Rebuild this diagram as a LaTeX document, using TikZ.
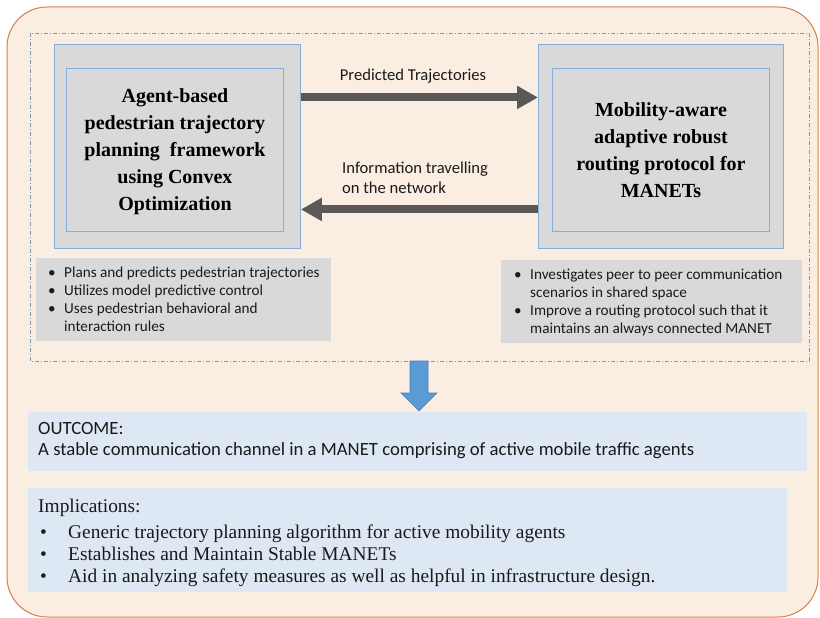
\documentclass[tikz,border=0pt]{standalone}
\usepackage{fontspec}
\setmainfont{Liberation Serif}
\newfontfamily\calfont{Carlito}
\usetikzlibrary{arrows.meta}
\definecolor{peach}{HTML}{FAEEE3}
\definecolor{orangeb}{HTML}{D4804A}
\definecolor{dashc}{HTML}{8296B0}
\definecolor{boxgray}{HTML}{D9D9D9}
\definecolor{boxblue}{HTML}{86AEDC}
\definecolor{darkarrow}{HTML}{595959}
\definecolor{lightblue}{HTML}{DDE8F4}
\definecolor{bluearrow}{HTML}{5B9BD5}
\definecolor{bluearrowb}{HTML}{4A7FB5}
\definecolor{txt}{HTML}{1A1A1A}
\begin{document}
\begin{tikzpicture}[x=1pt,y=-1pt,
  boxa/.style={draw=boxblue, fill=boxgray, line width=0.9pt, inner sep=0pt, anchor=north west},
  boxb/.style={draw=boxblue, fill=boxgray, line width=0.9pt, inner sep=0pt, anchor=north west},
  titletext/.style={align=center, inner sep=0pt, text=black, font=\bfseries\fontsize{20}{27}\selectfont},
  bigarrow/.style={draw=darkarrow, line width=8pt, -{Triangle[width=22pt,length=21pt]}},
  lbl/.style={inner sep=0pt, text=txt, font=\calfont\fontsize{16.6}{20}\selectfont},
  graybox/.style={fill=boxgray, inner sep=0pt, anchor=north west},
  bluebox/.style={fill=lightblue, inner sep=0pt, anchor=north west},
  bullettext/.style={inner sep=0pt, anchor=base west, text=txt, font=\calfont\fontsize{15.2}{18.3}\selectfont}
]
\useasboundingbox (0,0) rectangle (820,618);
% outer container
\draw[draw=orangeb, fill=peach, rounded corners=40pt, line width=1pt] (7,7) rectangle (818,617);
% dash-dotted group
\draw[draw=dashc, line width=0.8pt, dash pattern=on 4pt off 2pt on 1pt off 2pt] (30,33) rectangle (809,361);

% left block
\node[boxa, minimum width=246pt, minimum height=204pt] (Lout) at (54,44) {};
\node[boxb, minimum width=217pt, minimum height=163pt] (Lin) at (66,68) {};
\node[titletext] (Ltitle) at ([yshift=-1.5pt]Lin.center) {Agent-based\\pedestrian trajectory\\planning\ \ framework\\using Convex\\Optimization};

% right block
\node[boxa, minimum width=245pt, minimum height=204pt] (Rout) at (538,44) {};
\node[boxb, minimum width=217pt, minimum height=163pt] (Rin) at (552,68) {};
\node[titletext] (Rtitle) at (Rin.center) {Mobility-aware\\adaptive robust\\routing protocol for\\MANETs};

% arrows between blocks
\draw[bigarrow] ([yshift=49pt]Lout.east) -- ([yshift=49pt]Rout.west);
\draw[bigarrow] ([yshift=-63pt]Rout.west) -- ([yshift=-63pt]Lout.east);
\node[lbl] (lblA) at (413,76) {Predicted Trajectories};
\node[lbl, align=left, anchor=west] (lblB) at (342,178) {Information travelling\\on the network};

% left bullets
\node[graybox, minimum width=295pt, minimum height=83pt] (Lbul) at (36,258) {};
\node[bullettext] (LbulT) at (48,277) {\begin{tabular}[t]{@{}p{16pt}@{}l@{}}
\textbullet & Plans and predicts pedestrian trajectories\\
\textbullet & Utilizes model predictive control\\
\textbullet & Uses pedestrian behavioral and\\
 & interaction rules
\end{tabular}};

% right bullets
\node[graybox, minimum width=301pt, minimum height=83pt] (Rbul) at (501,260) {};
\node[bullettext] (RbulT) at (514,279) {\begin{tabular}[t]{@{}p{16pt}@{}l@{}}
\textbullet & Investigates peer to peer communication\\
 & scenarios in shared space\\
\textbullet & Improve a routing protocol such that it\\
 & maintains an always connected MANET
\end{tabular}};

% blue down arrow
\draw[fill=bluearrow, draw=bluearrowb, line width=0.6pt] (410,361) -- (428,361) -- (428,393) -- (437,393) -- (419,411) -- (401,393) -- (410,393) -- cycle;

% outcome box
\node[bluebox, minimum width=779pt, minimum height=59pt] (Outc) at (28,412) {};
\node[inner sep=0pt, anchor=base west, text=txt, font=\calfont\fontsize{18.7}{21}\selectfont] (OutcT) at (38,434) {\begin{tabular}[t]{@{}l@{}}OUTCOME:\\A stable communication channel in a MANET comprising of active mobile traffic agents\end{tabular}};

% implications box
\node[bluebox, minimum width=759pt, minimum height=104pt] (Impl) at (28,488) {};
\node[inner sep=0pt, anchor=base west, text=txt, font=\fontsize{19.4}{22}\selectfont] (ImplT) at (38,512) {\begin{tabular}[t]{@{}p{30pt}@{}l@{}}
\multicolumn{2}{@{}l@{}}{Implications:}\\[4pt]
\hspace{2pt}\textbullet & Generic trajectory planning algorithm for active mobility agents\\
\hspace{2pt}\textbullet & Establishes and Maintain Stable MANETs\\
\hspace{2pt}\textbullet & Aid in analyzing safety measures as well as helpful in infrastructure design.
\end{tabular}};
\end{tikzpicture}
\end{document}
